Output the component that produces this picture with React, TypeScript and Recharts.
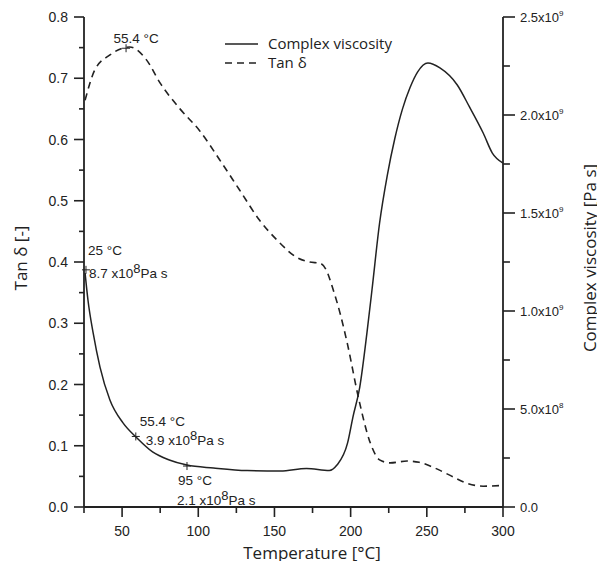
import React from 'react';
import { LineChart, Line, XAxis, YAxis, Legend, ReferenceDot, Label } from 'recharts';

// Tan delta (left axis)
const tanDelta = [
  { t: 25.7, v: 0.664 }, { t: 32, v: 0.713 }, { t: 42, v: 0.738 }, { t: 55, v: 0.751 },
  { t: 66, v: 0.73 }, { t: 75, v: 0.692 }, { t: 88, v: 0.65 }, { t: 101, v: 0.614 },
  { t: 114, v: 0.567 }, { t: 127, v: 0.518 }, { t: 140, v: 0.469 }, { t: 152, v: 0.435 },
  { t: 165, v: 0.407 }, { t: 173, v: 0.4 }, { t: 180, v: 0.398 }, { t: 184, v: 0.387 },
  { t: 188, v: 0.359 }, { t: 193, v: 0.317 }, { t: 198, v: 0.265 }, { t: 205, v: 0.18 },
  { t: 213, v: 0.104 }, { t: 219, v: 0.077 }, { t: 226, v: 0.072 }, { t: 237, v: 0.075 },
  { t: 245, v: 0.073 }, { t: 254, v: 0.065 }, { t: 265, v: 0.052 }, { t: 276, v: 0.039 },
  { t: 287, v: 0.034 }, { t: 298, v: 0.035 },
];

// complex viscosity [Pa s], solid curve (right axis)
const viscosity = [
  { t: 25.7, eta: 1.194e9 }, { t: 27.6, eta: 1.056e9 }, { t: 31, eta: 0.888e9 },
  { t: 35.5, eta: 0.714e9 }, { t: 42, eta: 0.546e9 }, { t: 50.6, eta: 0.429e9 },
  { t: 59.8, eta: 0.352e9 }, { t: 70, eta: 0.281e9 }, { t: 81, eta: 0.24e9 },
  { t: 92.6, eta: 0.214e9 }, { t: 110, eta: 0.199e9 }, { t: 132, eta: 0.186e9 },
  { t: 154, eta: 0.184e9 }, { t: 171, eta: 0.197e9 }, { t: 186, eta: 0.186e9 },
  { t: 191, eta: 0.214e9 }, { t: 198, eta: 0.327e9 }, { t: 201.5, eta: 0.459e9 },
  { t: 206, eta: 0.612e9 }, { t: 210.7, eta: 0.888e9 }, { t: 214, eta: 1.107e9 },
  { t: 219, eta: 1.449e9 }, { t: 224, eta: 1.69e9 }, { t: 229, eta: 1.88e9 },
  { t: 234, eta: 2.03e9 }, { t: 239, eta: 2.14e9 }, { t: 244, eta: 2.22e9 },
  { t: 250.7, eta: 2.265e9 }, { t: 258.6, eta: 2.24e9 }, { t: 270, eta: 2.153e9 },
  { t: 278, eta: 2.041e9 }, { t: 287, eta: 1.908e9 }, { t: 293, eta: 1.806e9 },
  { t: 300, eta: 1.755e9 },
];

const xTicks = [25, 50, 75, 100, 125, 150, 175, 200, 225, 250, 275, 300];
const leftTicks = [0, 0.05, 0.1, 0.15, 0.2, 0.25, 0.3, 0.35, 0.4, 0.45, 0.5, 0.55, 0.6, 0.65, 0.7, 0.75, 0.8];
const rightTicks = [0, 2.5e8, 5e8, 7.5e8, 1e9, 1.25e9, 1.5e9, 1.75e9, 2e9, 2.25e9, 2.5e9];

// annotated points
const tanPeak = { t: 52.6, v: 0.749, label: '55.4 °C' };
const viscMarks = [
  { t: 26.3, eta: 1.21e9, temp: '25 °C', val: '8.7' },
  { t: 59, eta: 0.36e9, temp: '55.4 °C', val: '3.9' },
  { t: 92.6, eta: 0.209e9, temp: '95 °C', val: '2.1' },
];
// where each note sits relative to its marker
const noteOffsets = [
  { tx: 2, ty: -20, vx: 3, vy: 3 },
  { tx: 4, ty: -15, vx: 10, vy: 4 },
  { tx: -9, ty: 14, vx: -10, vy: 34 },
];

const INK = '#222';
const tickFont = { fontFamily: 'Liberation Sans, Arial, sans-serif', fontSize: 14, fill: INK };
const titleFont = { fontFamily: 'Open Sans, sans-serif', fontSize: 17, fill: INK };

const isMajorX = (v: number) => v % 50 === 0;
const isMajorL = (v: number) => Math.round(v * 100) % 10 === 0;
const isMajorR = (v: number) => Math.round(v / 1e7) % 50 === 0;

const BottomTick = ({ x, y, payload }: any) => (
  <g>
    <line x1={x} x2={x} y1={y} y2={y + (isMajorX(payload.value) ? 10 : 6)} stroke={INK} strokeWidth={1.6} />
    {isMajorX(payload.value) && (
      <text x={x} y={y + 29} textAnchor="middle" {...tickFont}>{payload.value}</text>
    )}
  </g>
);

const TopTick = ({ x, y, payload }: any) => (
  <line x1={x} x2={x} y1={y} y2={y + (isMajorX(payload.value) ? 10 : 6)} stroke={INK} strokeWidth={1.6} />
);

const LeftTick = ({ x, y, payload }: any) => (
  <g>
    <line x1={x} x2={x - (isMajorL(payload.value) ? 10 : 5)} y1={y} y2={y} stroke={INK} strokeWidth={1.6} />
    {isMajorL(payload.value) && (
      <text x={x - 16} y={y + 5} textAnchor="end" {...tickFont}>{payload.value.toFixed(1)}</text>
    )}
  </g>
);

const RightTick = ({ x, y, payload }: any) => {
  const v = payload.value;
  const major = isMajorR(v);
  let label: React.ReactNode = null;
  if (major) {
    if (v === 0) label = <tspan>0.0</tspan>;
    else {
      const exp = Math.floor(Math.log10(v));
      const mant = (v / Math.pow(10, exp)).toFixed(1);
      label = (
        <>
          <tspan>{mant}x10</tspan>
          <tspan dy={-6} fontSize={8}>{exp}</tspan>
        </>
      );
    }
  }
  return (
    <g>
      <line x1={x} x2={x + (major ? 12 : 7)} y1={y} y2={y} stroke={INK} strokeWidth={1.6} />
      {major && (
        <text x={x + 17} y={y + 5} textAnchor="start" {...tickFont} fontSize={13}>{label}</text>
      )}
    </g>
  );
};

const Plus = ({ cx, cy }: any) => (
  <g stroke={INK} strokeWidth={1}>
    <line x1={cx - 4} x2={cx + 4} y1={cy} y2={cy} />
    <line x1={cx} x2={cx} y1={cy - 4} y2={cy + 4} />
  </g>
);

const noteFont = { fontFamily: 'Liberation Sans, Arial, sans-serif', fontSize: 13.5, fill: INK };

const ViscNote = ({ cx, cy, mark, off }: any) => (
  <g>
    <Plus cx={cx} cy={cy} />
    <text x={cx + off.tx} y={cy + off.ty + 5} {...noteFont}>{mark.temp}</text>
    <text x={cx + off.vx} y={cy + off.vy + 5} {...noteFont}>
      <tspan>{mark.val} x10</tspan>
      <tspan dy={-5} fontSize={13}>8</tspan>
      <tspan dy={5}>Pa s</tspan>
    </text>
  </g>
);

const LegendBox = () => (
  <svg width={200} height={40} style={{ display: 'block' }}>
    <line x1={0} x2={33} y1={10} y2={10} stroke={INK} strokeWidth={1.4} />
    <text x={43} y={15} fontFamily="Open Sans, sans-serif" fontSize={15} fill={INK}>Complex viscosity</text>
    <line x1={0} x2={33} y1={29} y2={29} stroke={INK} strokeWidth={1.6} strokeDasharray="7 5" />
    <text x={43} y={34} fontFamily="Open Sans, sans-serif" fontSize={15} fill={INK}>Tan δ</text>
  </svg>
);

export default function App() {
  return (
    <div style={{ margin: -8, background: '#fff', width: 605, height: 569 }}>
      <LineChart width={605} height={569} margin={{ top: 17, right: 22, bottom: 22, left: 24 }}>
        <XAxis
          xAxisId="bottom" type="number" dataKey="t" domain={[25, 300]} ticks={xTicks}
          allowDataOverflow height={40} tickSize={0} tickMargin={0} tickLine={false}
          axisLine={{ stroke: INK, strokeWidth: 1.8 }} tick={<BottomTick />} interval={0}
        >
          <Label
            content={() => (
              <text x={312} y={559} textAnchor="middle" {...titleFont}>Temperature [°C]</text>
            )}
          />
        </XAxis>
        <XAxis
          xAxisId="top" orientation="top" type="number" dataKey="t" domain={[25, 300]} ticks={xTicks}
          allowDataOverflow height={0} tickSize={0} tickMargin={0} tickLine={false}
          axisLine={{ stroke: INK, strokeWidth: 1.8 }} tick={<TopTick />} interval={0}
        />
        <YAxis
          yAxisId="left" type="number" domain={[0, 0.8]} ticks={leftTicks} width={60}
          allowDataOverflow tickSize={0} tickMargin={0} tickLine={false} interval={0}
          axisLine={{ stroke: INK, strokeWidth: 1.8 }} tick={<LeftTick />}
        >
          <Label
            content={({ viewBox }: any) => {
              const cx = viewBox.x - 4;
              const cy = viewBox.y + viewBox.height / 2 - 4;
              return (
                <text x={cx} y={cy} transform={`rotate(-90 ${cx} ${cy})`} textAnchor="middle" dominantBaseline="central" {...titleFont}>
                  Tan δ [-]
                </text>
              );
            }}
          />
        </YAxis>
        <YAxis
          yAxisId="right" orientation="right" type="number" domain={[0, 2.5e9]} ticks={rightTicks} width={80}
          allowDataOverflow tickSize={0} tickMargin={0} tickLine={false} interval={0}
          axisLine={{ stroke: INK, strokeWidth: 1.8 }} tick={<RightTick />}
        >
          <Label
            content={({ viewBox }: any) => {
              const cx = viewBox.x + viewBox.width + 6;
              const cy = viewBox.y + viewBox.height / 2 - 4;
              return (
                <text x={cx} y={cy} transform={`rotate(-90 ${cx} ${cy})`} textAnchor="middle" dominantBaseline="central" {...titleFont}>
                  Complex viscosity [Pa s]
                </text>
              );
            }}
          />
        </YAxis>
        <Legend
          layout="vertical" align="center" verticalAlign="middle"
          wrapperStyle={{ left: 225, top: 34, width: 200 }}
          content={() => <LegendBox />}
        />
        <Line
          xAxisId="bottom" yAxisId="right" data={viscosity} dataKey="eta" name="Complex viscosity"
          type="monotone" stroke={INK} strokeWidth={1.5} dot={false} isAnimationActive={false}
        />
        <Line
          xAxisId="bottom" yAxisId="left" data={tanDelta} dataKey="v" name="Tan δ"
          type="monotone" stroke={INK} strokeWidth={1.6} strokeDasharray="7 5" dot={false} isAnimationActive={false}
        />
        <ReferenceDot
          xAxisId="bottom" yAxisId="left" x={tanPeak.t} y={tanPeak.v} r={4}
          shape={({ cx, cy }: any) => (
            <g>
              <Plus cx={cx} cy={cy} />
              <text x={cx + 10} y={cy - 5} textAnchor="middle" {...noteFont}>{tanPeak.label}</text>
            </g>
          )}
        />
        {viscMarks.map((m, i) => (
          <ReferenceDot
            key={i} xAxisId="bottom" yAxisId="right" x={m.t} y={m.eta} r={4}
            shape={({ cx, cy }: any) => <ViscNote cx={cx} cy={cy} mark={m} off={noteOffsets[i]} />}
          />
        ))}
      </LineChart>
    </div>
  );
}
